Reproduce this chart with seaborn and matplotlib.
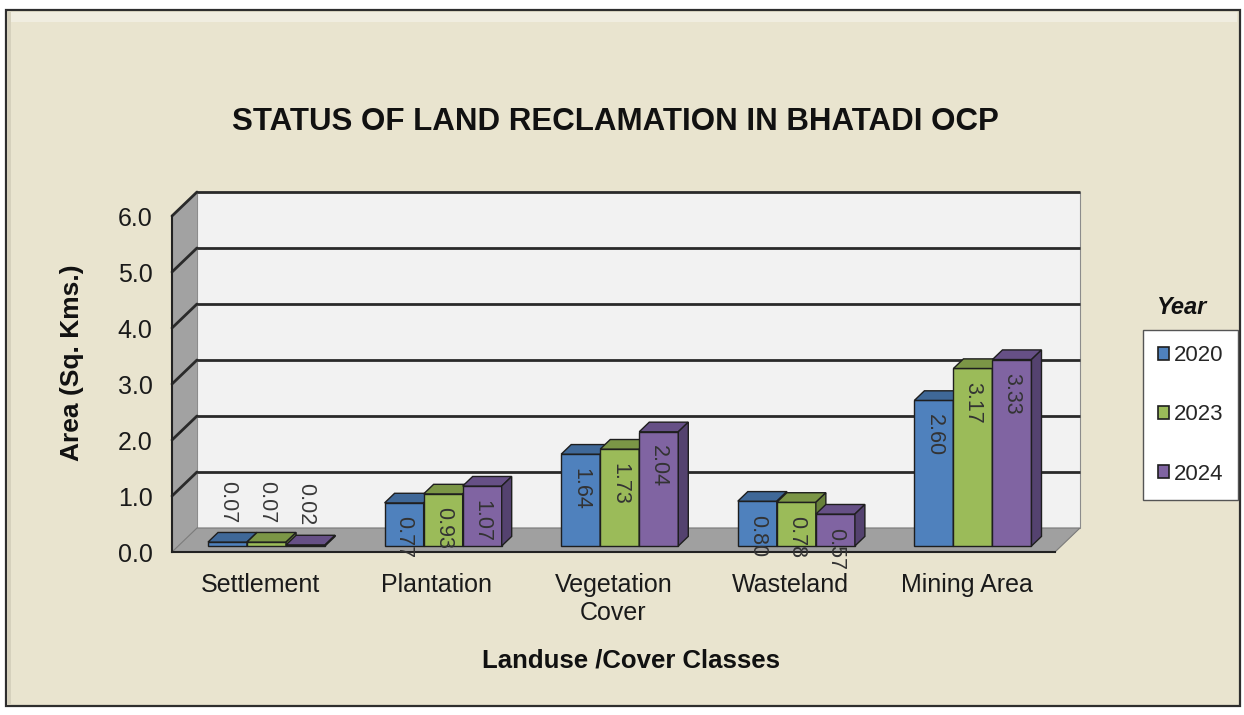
import numpy as np
import pandas as pd
import matplotlib
matplotlib.use("Agg")
import matplotlib.pyplot as plt
from matplotlib.patches import Polygon, Rectangle, Patch
import seaborn as sns

# ---- data -------------------------------------------------------------
categories = ["Settlement", "Plantation", "Vegetation\nCover", "Wasteland", "Mining Area"]
years = ["2020", "2023", "2024"]
area_2020 = [0.07, 0.77, 1.64, 0.80, 2.60]
area_2023 = [0.07, 0.93, 1.73, 0.78, 3.17]
area_2024 = [0.02, 1.07, 2.04, 0.57, 3.33]
y_ticks = [0, 1, 2, 3, 4, 5, 6]

series = [area_2020, area_2023, area_2024]
df = pd.DataFrame({
    "Class": categories * len(years),
    "Year": [y for y in years for _ in categories],
    "Area": area_2020 + area_2023 + area_2024,
})

# ---- styling ----------------------------------------------------------
sns.set_style("white")
plt.rcParams["font.family"] = ["Liberation Sans", "DejaVu Sans"]

BEIGE = "#E9E4CF"
EDGE = "#1E1E1E"
front_colors = ["#4F81BD", "#9BBB59", "#8064A2"]
top_colors = ["#3F6898", "#7B9646", "#665086"]
side_colors = ["#34577F", "#67803A", "#54426F"]

W, H = 1244, 715
fig = plt.figure(figsize=(W / 100, H / 100), dpi=100)
fig.patch.set_facecolor("white")

# outer chart panel with a soft bevel
fig.patches.append(Rectangle((6 / W, 1 - 706 / H), (1240 - 6) / W, (706 - 10) / H,
                             transform=fig.transFigure, fc=BEIGE, ec="#2E2E2E",
                             lw=1.6, zorder=-3))
fig.patches.append(Rectangle((9 / W, 1 - 22 / H), (1237 - 9) / W, 10 / H,
                             transform=fig.transFigure, fc="#F0EDE0", ec="none",
                             zorder=-2))
fig.patches.append(Rectangle((7 / W, 1 - 705 / H), 4 / W, (705 - 12) / H,
                             transform=fig.transFigure, fc="#D6D1BD", ec="none",
                             zorder=-2))

# axes = front plane of the 3-D box
ax = fig.add_axes([172 / W, 1 - 552 / H, (1055 - 172) / W, (552 - 216) / H])
ax.set_facecolor("none")
ax.set_zorder(1)

sns.barplot(data=df, x="Class", y="Area", hue="Year", order=categories,
            hue_order=years, palette=front_colors, width=0.663, saturation=1,
            edgecolor=EDGE, linewidth=1, legend=False, ax=ax)

xmin, xmax = -0.5, len(categories) - 0.5
ymax = 6
ax.set_xlim(xmin, xmax)
ax.set_ylim(0, ymax)

# depth vector of the box (data units) and bar placement within the depth
px_x = (1055 - 172) / (xmax - xmin)
px_y = (552 - 216) / ymax
DX, DY = 25 / px_x, 24 / px_y
T0, TD = 0.25, 0.40
ddx, ddy = TD * DX, TD * DY

# back wall, side wall, floor
ax.add_patch(Rectangle((xmin + DX, DY), xmax - xmin, ymax, fc="#F2F2F2",
                       ec="#8C8C8C", lw=0.8, clip_on=False, zorder=0.5))
ax.add_patch(Polygon([(xmin, 0), (xmin + DX, DY), (xmin + DX, ymax + DY), (xmin, ymax)],
                     closed=True, fc="#A2A2A2", ec="none", clip_on=False, zorder=0.55))
ax.add_patch(Polygon([(xmin, 0), (xmax, 0), (xmax + DX, DY), (xmin + DX, DY)],
                     closed=True, fc="#A0A0A0", ec="#7A7A7A", lw=0.8, clip_on=False,
                     zorder=0.7))
for k in y_ticks[1:]:
    ax.plot([xmin + DX, xmax + DX], [k + DY, k + DY], color="#2A2A2A", lw=2,
            clip_on=False, zorder=0.6, solid_capstyle="butt")
    ax.plot([xmin, xmin + DX], [k, k + DY], color="#2A2A2A", lw=2,
            clip_on=False, zorder=0.6)

# 3-D bars: front face from seaborn, top and side faces from the same geometry
for hi, (cont, vals) in enumerate(zip(ax.containers, series)):
    for bar, v in zip(cont, vals):
        w = bar.get_width()
        x0 = bar.get_x() + T0 * DX
        y0 = T0 * DY
        bar.set_x(x0)
        bar.set_y(y0)
        x1, y1 = x0 + w, y0 + v
        z = 3 + hi * 0.1
        bar.set_zorder(z)
        ax.add_patch(Polygon([(x0, y1), (x0 + ddx, y1 + ddy), (x1 + ddx, y1 + ddy), (x1, y1)],
                             closed=True, fc=top_colors[hi], ec=EDGE, lw=1, zorder=z + 0.01))
        ax.add_patch(Polygon([(x1, y0), (x1 + ddx, y0 + ddy), (x1 + ddx, y1 + ddy), (x1, y1)],
                             closed=True, fc=side_colors[hi], ec=EDGE, lw=1, zorder=z + 0.01))
        xc = x0 + w / 2
        if v * px_y >= 20:
            # value inside the column, reading downward from near the top
            ax.text(xc, y1 - 0.24, f"{v:.2f}", rotation=270, ha="center", va="top",
                    fontsize=15.5, color="#333333", zorder=10)
        else:
            # very short columns: value sits above the column
            ax.text(xc, v + 0.45, f"{v:.2f}", rotation=270, ha="center", va="bottom",
                    fontsize=15.5, color="#3A3A3A", zorder=10)

# axes lines and ticks
for s in ["top", "right"]:
    ax.spines[s].set_visible(False)
for s in ["left", "bottom"]:
    ax.spines[s].set_color("#222222")
    ax.spines[s].set_linewidth(1.5)
    ax.spines[s].set_zorder(5)

ax.set_yticks(y_ticks)
ax.set_yticklabels([f"{t:.1f}" for t in y_ticks])
ax.tick_params(axis="y", length=6, width=1.3, direction="out", pad=8,
               labelsize=18, color="#222222", labelcolor="#1A1A1A")
ax.set_xticks(range(len(categories)))
ax.set_xticklabels(categories)
ax.set_xticks(np.arange(xmin, xmax + 0.01, 1), minor=True)
ax.tick_params(axis="x", which="major", length=0, pad=15, labelsize=18,
               labelcolor="#1A1A1A")
ax.tick_params(axis="x", which="minor", length=8, width=1.3, direction="out",
               color="#222222")
ax.set_xlabel("")
ax.set_ylabel("")

# titles
fig.text(615 / W, 1 - 122 / H, "STATUS OF LAND RECLAMATION IN BHATADI OCP",
         ha="center", va="center", fontsize=22.5, fontweight="bold", color="#111111")
fig.text(631 / W, 1 - 660 / H, "Landuse /Cover Classes", ha="center", va="center",
         fontsize=18.5, fontweight="bold", color="#111111")
fig.text(72 / W, 1 - 363 / H, "Area (Sq. Kms.)", ha="center", va="center",
         rotation=90, fontsize=19, fontweight="bold", color="#111111")
fig.text(1181 / W, 1 - 308 / H, "Year", ha="center", va="center", fontsize=17,
         fontweight="bold", fontstyle="italic", color="#111111")

# legend
handles = [Patch(fc=c, ec=EDGE, lw=1.2) for c in front_colors]
leg = fig.legend(handles, years, loc="upper left",
                 bbox_to_anchor=(1143 / W, 1 - 330 / H), bbox_transform=fig.transFigure,
                 borderaxespad=0, fontsize=16, handlelength=0.5, handleheight=0.5,
                 handletextpad=0.2, labelspacing=1.72, borderpad=0.68,
                 frameon=True, fancybox=False, shadow=False, framealpha=1)
leg.get_frame().set_edgecolor("#555555")
leg.get_frame().set_facecolor("white")
leg.get_frame().set_linewidth(1.0)

fig.savefig("out.png", dpi=100)
